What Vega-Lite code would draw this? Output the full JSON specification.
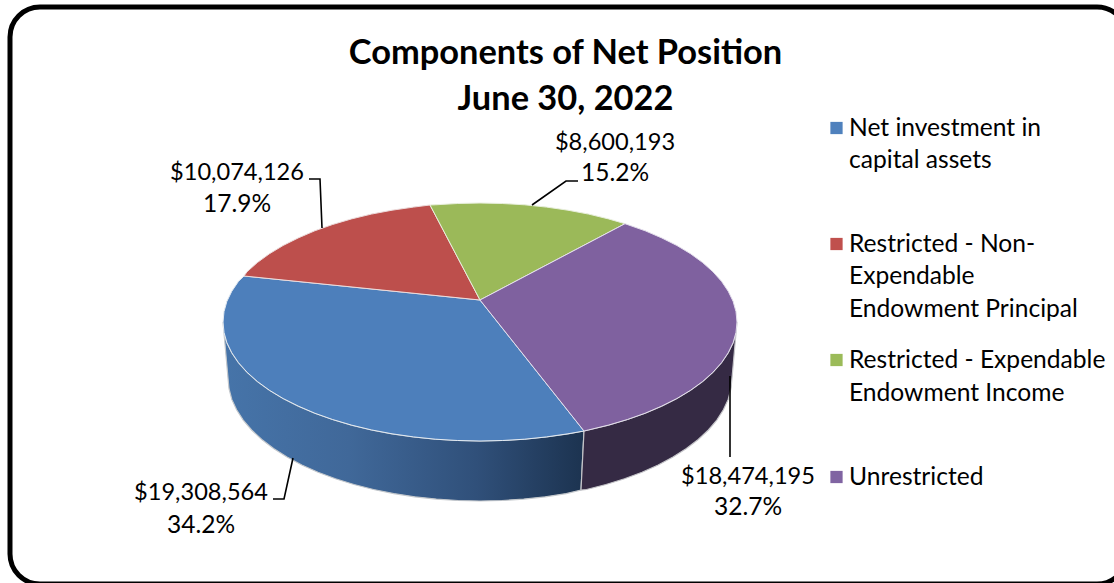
{"$schema":"https://vega.github.io/schema/vega-lite/v6.json","width":1114,"height":583,"autosize":{"type":"none"},"padding":0,"background":"white","config":{"view":{"stroke":null}},
"title":{"text":["Components of Net Position","June 30, 2022"],"anchor":"middle","dx":8.5,"offset":-117,"font":"Lato","fontSize":34.4,"fontWeight":"bold","lineHeight":46,"color":"black"},
"datasets":{
"frame":[{"x":10,"x2":1127,"y":7,"y2":584}],
"blueWall":[{"x":223,"y":322},{"x":224,"y":332.4},{"x":226.9,"y":342.7},{"x":231.8,"y":352.8},{"x":238.5,"y":362.7},{"x":247.1,"y":372.3},{"x":257.4,"y":381.5},{"x":269.5,"y":390.3},{"x":283.1,"y":398.5},{"x":298.3,"y":406.1},{"x":314.8,"y":413.2},{"x":332.6,"y":419.5},{"x":351.5,"y":425.1},{"x":371.4,"y":429.9},{"x":392.1,"y":433.8},{"x":413.5,"y":436.9},{"x":435.4,"y":439.2},{"x":457.6,"y":440.5},{"x":480,"y":441},{"x":502.4,"y":440.5},{"x":524.6,"y":439.2},{"x":546.5,"y":436.9},{"x":567.9,"y":433.8},{"x":584,"y":431},{"x":581,"y":490},{"x":566.2,"y":493.6},{"x":545.2,"y":496.8},{"x":523.7,"y":499.1},{"x":502,"y":500.5},{"x":480,"y":501},{"x":458,"y":500.5},{"x":436.3,"y":499.1},{"x":414.8,"y":496.8},{"x":393.8,"y":493.6},{"x":373.5,"y":489.5},{"x":354,"y":484.5},{"x":335.5,"y":478.8},{"x":318,"y":472.2},{"x":301.8,"y":465},{"x":287,"y":457.1},{"x":273.6,"y":448.6},{"x":261.8,"y":439.5},{"x":251.6,"y":430},{"x":243.2,"y":420.1},{"x":236.6,"y":409.8},{"x":231.8,"y":399.4},{"x":229,"y":388.7},{"x":228,"y":378},{"x":223,"y":322}],
"purpleWall":[{"x":737,"y":322},{"x":736,"y":332.4},{"x":733.1,"y":342.7},{"x":728.2,"y":352.8},{"x":721.5,"y":362.7},{"x":712.9,"y":372.3},{"x":702.6,"y":381.5},{"x":690.5,"y":390.3},{"x":676.9,"y":398.5},{"x":661.7,"y":406.1},{"x":645.2,"y":413.2},{"x":627.4,"y":419.5},{"x":608.5,"y":425.1},{"x":588.6,"y":429.9},{"x":584,"y":431},{"x":581,"y":490},{"x":586.5,"y":489.5},{"x":606,"y":484.5},{"x":624.5,"y":478.8},{"x":642,"y":472.2},{"x":658.2,"y":465},{"x":673,"y":457.1},{"x":686.4,"y":448.6},{"x":698.2,"y":439.5},{"x":708.4,"y":430},{"x":716.8,"y":420.1},{"x":723.4,"y":409.8},{"x":728.2,"y":399.4},{"x":731,"y":388.7},{"x":732,"y":378},{"x":737,"y":322}],
"blue":[{"x":480,"y":300},{"x":584,"y":431},{"x":567.9,"y":433.8},{"x":546.5,"y":436.9},{"x":524.6,"y":439.2},{"x":502.4,"y":440.5},{"x":480,"y":441},{"x":457.6,"y":440.5},{"x":435.4,"y":439.2},{"x":413.5,"y":436.9},{"x":392.1,"y":433.8},{"x":371.4,"y":429.9},{"x":351.5,"y":425.1},{"x":332.6,"y":419.5},{"x":314.8,"y":413.2},{"x":298.3,"y":406.1},{"x":283.1,"y":398.5},{"x":269.5,"y":390.3},{"x":257.4,"y":381.5},{"x":247.1,"y":372.3},{"x":238.5,"y":362.7},{"x":231.8,"y":352.8},{"x":226.9,"y":342.7},{"x":224,"y":332.4},{"x":223,"y":322},{"x":224,"y":311.6},{"x":226.9,"y":301.3},{"x":231.8,"y":291.2},{"x":238.5,"y":281.3},{"x":244,"y":276},{"x":480,"y":300}],
"red":[{"x":480,"y":300},{"x":244,"y":276},{"x":247.1,"y":271.7},{"x":257.4,"y":262.5},{"x":269.5,"y":253.7},{"x":283.1,"y":245.5},{"x":298.3,"y":237.9},{"x":314.8,"y":230.8},{"x":332.6,"y":224.5},{"x":351.5,"y":218.9},{"x":371.4,"y":214.1},{"x":392.1,"y":210.2},{"x":413.5,"y":207.1},{"x":430,"y":205},{"x":480,"y":300}],
"green":[{"x":480,"y":300},{"x":430,"y":205},{"x":435.4,"y":204.8},{"x":457.6,"y":203.5},{"x":480,"y":203},{"x":502.4,"y":203.5},{"x":524.6,"y":204.8},{"x":546.5,"y":207.1},{"x":567.9,"y":210.2},{"x":588.6,"y":214.1},{"x":608.5,"y":218.9},{"x":625,"y":223.7},{"x":480,"y":300}],
"purple":[{"x":480,"y":300},{"x":625,"y":223.7},{"x":645.2,"y":230.8},{"x":661.7,"y":237.9},{"x":676.9,"y":245.5},{"x":690.5,"y":253.7},{"x":702.6,"y":262.5},{"x":712.9,"y":271.7},{"x":721.5,"y":281.3},{"x":728.2,"y":291.2},{"x":733.1,"y":301.3},{"x":736,"y":311.6},{"x":737,"y":322},{"x":736,"y":332.4},{"x":733.1,"y":342.7},{"x":728.2,"y":352.8},{"x":721.5,"y":362.7},{"x":712.9,"y":372.3},{"x":702.6,"y":381.5},{"x":690.5,"y":390.3},{"x":676.9,"y":398.5},{"x":661.7,"y":406.1},{"x":645.2,"y":413.2},{"x":627.4,"y":419.5},{"x":608.5,"y":425.1},{"x":588.6,"y":429.9},{"x":584,"y":431},{"x":480,"y":300}],
"leaders":[{"slice":"red","x":309,"y":179},{"slice":"red","x":320,"y":179},{"slice":"red","x":322,"y":228},{"slice":"green","x":578,"y":181},{"slice":"green","x":566,"y":181},{"slice":"green","x":532,"y":205},{"slice":"purple","x":730,"y":376},{"slice":"purple","x":730,"y":457},{"slice":"blue","x":293,"y":458},{"slice":"blue","x":284,"y":499},{"slice":"blue","x":273,"y":499}],
"labels":[{"slice":"Net investment in capital assets","value":19308564,"share":0.342,"x":201,"y":492.5,"yShare":526},{"slice":"Restricted - Non-Expendable Endowment Principal","value":10074126,"share":0.179,"x":237,"y":172.5,"yShare":205},{"slice":"Restricted - Expendable Endowment Income","value":8600193,"share":0.152,"x":615,"y":142.5,"yShare":174},{"slice":"Unrestricted","value":18474195,"share":0.327,"x":748,"y":476.5,"yShare":508}],
"legendMarks":[{"slice":"Net investment in capital assets","x":836.5,"y":128},{"slice":"Restricted - Non-Expendable Endowment Principal","x":836.5,"y":244},{"slice":"Restricted - Expendable Endowment Income","x":836.5,"y":360},{"slice":"Unrestricted","x":836.5,"y":477}],
"legendText":[{"t":"Net investment in","x":849,"y":129},{"t":"capital assets","x":849,"y":161},{"t":"Restricted - Non-","x":849,"y":245},{"t":"Expendable","x":849,"y":277},{"t":"Endowment Principal","x":849,"y":310},{"t":"Restricted - Expendable","x":849,"y":361},{"t":"Endowment Income","x":849,"y":394},{"t":"Unrestricted","x":849,"y":478}]
},
"encoding":{"x":{"field":"x","type":"quantitative","axis":null,"scale":{"domain":[0,1114],"nice":false,"zero":false}},"y":{"field":"y","type":"quantitative","axis":null,"scale":{"domain":[583,0],"nice":false,"zero":false}}},
"layer":[
{"data":{"name":"frame"},"mark":{"type":"rect","fill":"transparent","stroke":"black","strokeWidth":5,"cornerRadius":30,"clip":false},"encoding":{"x2":{"field":"x2"},"y2":{"field":"y2"}}},
{"data":{"name":"blueWall"},"mark":{"type":"line","fill":{"gradient":"linear","x1":0,"x2":1,"y1":0,"y2":0,"stops":[{"offset":0,"color":"#4674a9"},{"offset":0.35,"color":"#406899"},{"offset":0.7,"color":"#30507a"},{"offset":1,"color":"#1c3350"}]},"stroke":"#c4c8cc","strokeWidth":1.2},"encoding":{"order":{"value":null}}},
{"data":{"name":"purpleWall"},"mark":{"type":"line","fill":"#352a44","stroke":"#c4c4c8","strokeWidth":1.2},"encoding":{"order":{"value":null}}},
{"data":{"name":"blue"},"mark":{"type":"line","fill":"#4d7fbb","stroke":"#e4ebf2","strokeWidth":1},"encoding":{"order":{"value":null}}},
{"data":{"name":"red"},"mark":{"type":"line","fill":"#bd4f4c","stroke":"#ecdcdc","strokeWidth":1},"encoding":{"order":{"value":null}}},
{"data":{"name":"green"},"mark":{"type":"line","fill":"#9bb959","stroke":"#e8efdc","strokeWidth":1},"encoding":{"order":{"value":null}}},
{"data":{"name":"purple"},"mark":{"type":"line","fill":"#7f619f","stroke":"#e4dfec","strokeWidth":1},"encoding":{"order":{"value":null}}},
{"data":{"name":"leaders"},"mark":{"type":"line","color":"black","strokeWidth":1.6},"encoding":{"detail":{"field":"slice"},"order":{"value":null}}},
{"data":{"name":"labels"},"mark":{"type":"text","font":"Lato","fontSize":23.6,"color":"black","align":"center","baseline":"middle"},"encoding":{"text":{"field":"value","type":"quantitative","format":"$,.0f"}}},
{"data":{"name":"labels"},"mark":{"type":"text","font":"Lato","fontSize":24.5,"color":"black","align":"center","baseline":"middle"},"encoding":{"y":{"field":"yShare","type":"quantitative"},"text":{"field":"share","type":"quantitative","format":".1%"}}},
{"data":{"name":"legendMarks"},"mark":{"type":"point","shape":"square","filled":true,"size":150,"opacity":1},"encoding":{"color":{"field":"slice","type":"nominal","legend":null,"scale":{"domain":["Net investment in capital assets","Restricted - Non-Expendable Endowment Principal","Restricted - Expendable Endowment Income","Unrestricted"],"range":["#4f81bd","#c0504d","#9bbb59","#8064a2"]}}}},
{"data":{"name":"legendText"},"mark":{"type":"text","font":"Lato","fontSize":24.6,"color":"black","align":"left","baseline":"middle"},"encoding":{"text":{"field":"t"}}}
]}
